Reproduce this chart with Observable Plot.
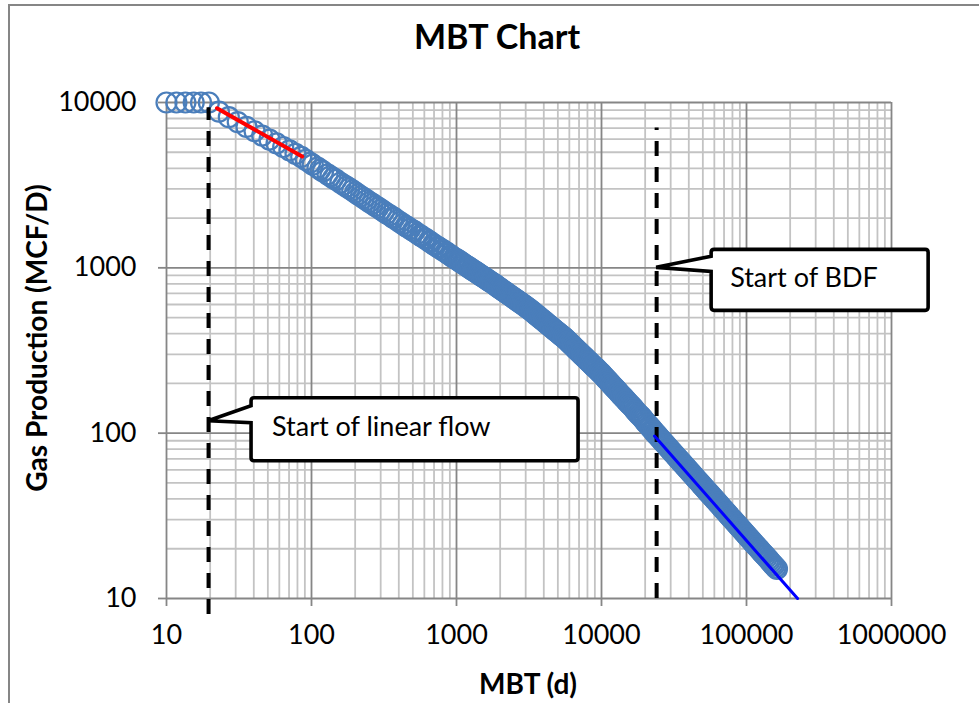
<!DOCTYPE html>
<html>
<head>
<meta charset="utf-8">
<script src="https://cdn.jsdelivr.net/npm/d3@7"></script>
<script src="https://cdn.jsdelivr.net/npm/@observablehq/plot@0.6"></script>
<style>
  html, body { margin: 0; padding: 0; background: #fff; }
  #wrap { position: relative; width: 979px; height: 703px; overflow: hidden; }
  #frame { position: absolute; left: 8px; top: 4px; width: 2000px; height: 2000px;
           border-left: 2px solid #868686; border-top: 2px solid #868686; }
  #chart { position: absolute; left: 0; top: 0; }
</style>
</head>
<body>
<div id="wrap"><div id="frame"></div><div id="chart"></div></div>
<script>
// ---- data ----
const earlyMbt  = [10, 11.7, 13.5, 15.4, 17.3, 19.6, 23.0, 26.9, 31.0, 35.6, 40.5, 45.7, 51.3, 57.4, 63.8, 70.5, 77.6, 84.9];
const earlyRate = [10000, 10000, 10000, 10000, 10000, 10000, 8800, 8150, 7610, 7120, 6700, 6310, 5970, 5660, 5380, 5130, 4890, 4690];

const midMbt = [91.2, 97.7, 102, 110, 115, 120, 129, 135, 141, 148,
  158, 166, 174, 182, 191, 200, 209, 219, 229, 240,
  251, 263, 275, 288, 302, 316, 331, 347, 363, 372,
  389, 407, 427, 447, 457, 479, 501, 513, 537, 562,
  575, 603, 617, 646, 661, 692, 708, 741, 759, 794,
  813, 851, 871, 912, 933, 977];
const midRate = [4500, 4320, 4210, 4040, 3930, 3830, 3680, 3580, 3490, 3400,
  3270, 3180, 3100, 3020, 2940, 2860, 2780, 2710, 2640, 2570,
  2500, 2440, 2370, 2310, 2250, 2190, 2130, 2080, 2020, 2000,
  1940, 1890, 1840, 1790, 1770, 1720, 1680, 1660, 1610, 1570,
  1550, 1510, 1490, 1450, 1430, 1390, 1370, 1340, 1320, 1290,
  1270, 1240, 1220, 1190, 1170, 1140];

const lateMbt = [1000, 1023, 1047, 1072, 1096, 1122, 1148, 1175, 1202, 1230,
  1259, 1288, 1318, 1349, 1380, 1413, 1445, 1479, 1514, 1549,
  1585, 1622, 1660, 1698, 1738, 1778, 1820, 1862, 1905, 1950,
  1995, 2042, 2089, 2138, 2188, 2239, 2291, 2344, 2399, 2455,
  2512, 2570, 2630, 2692, 2754, 2818, 2884, 2951, 3020, 3090,
  3162, 3236, 3311, 3388, 3467, 3548, 3631, 3715, 3802, 3890,
  3981, 4074, 4169, 4266, 4365, 4467, 4571, 4677, 4786, 4898,
  5012, 5129, 5248, 5370, 5495, 5623, 5754, 5888, 6026, 6166,
  6310, 6457, 6607, 6761, 6918, 7079, 7244, 7413, 7586, 7762,
  7943, 8128, 8318, 8511, 8710, 8913, 9120, 9333, 9550, 9772,
  10000, 10230, 10470, 10720, 10960, 11220, 11480, 11750, 12020, 12300,
  12590, 12880, 13180, 13490, 13800, 14130, 14450, 14790, 15140, 15490,
  15850, 16220, 16600, 16980, 17380, 17780, 18200, 18620, 19050, 19500,
  19950, 20420, 20890, 21380, 21880, 22390, 22910, 23440, 23990, 24550,
  25120, 25700, 26300, 26920, 27540, 28180, 28840, 29510, 30200, 30900,
  31620, 32360, 33110, 33880, 34670, 35480, 36310, 37150, 38020, 38900,
  39810, 40740, 41690, 42660, 43650, 44670, 45710, 46770, 47860, 48980,
  50120, 51290, 52480, 53700, 54950, 56230, 57540, 58880, 60260, 61660,
  63100, 64570, 66070, 67610, 69180, 70790, 72440, 74130, 75860, 77620,
  79430, 81280, 83180, 85110, 87100, 89130, 91200, 93330, 95500, 97720,
  100000, 102300, 104700, 107200, 109600, 112200, 114800, 117500, 120200, 123000,
  125900, 128800, 131800, 134900, 138000, 141300, 144500, 147900, 151400, 154900,
  158500, 162200];
const lateRate = [1127, 1112, 1097, 1083, 1069, 1055, 1040, 1026, 1013, 1000,
  986, 973, 960, 948, 935, 923, 910, 898, 886, 875,
  863, 852, 840, 829, 818, 807, 796, 785, 773, 762,
  752, 741, 730, 720, 710, 700, 690, 680, 671, 661,
  652, 642, 633, 624, 616, 607, 598, 590, 581, 573,
  565, 556, 547, 538, 529, 520, 512, 503, 495, 487,
  479, 471, 463, 455, 448, 441, 433, 426, 419, 412,
  406, 399, 392, 386, 380, 373, 366, 359, 352, 345,
  338, 332, 325, 319, 313, 307, 301, 295, 289, 284,
  278, 273, 268, 262, 257, 252, 248, 243, 238, 233,
  229, 224, 219, 214, 210, 205, 201, 196, 192, 188,
  184, 180, 176, 172, 168, 165, 161, 158, 154, 151,
  148, 145, 142, 138, 135, 132, 129, 127, 124, 121,
  118, 115, 113, 110, 108, 105, 103, 100, 98.2, 95.9,
  93.8, 91.7, 89.6, 87.6, 85.7, 83.8, 81.9, 80.1, 78.3, 76.5,
  74.8, 73.2, 71.5, 69.9, 68.4, 66.8, 65.4, 63.9, 62.5, 61.1,
  59.7, 58.4, 57.1, 55.8, 54.6, 53.3, 52.1, 51.0, 49.9, 48.7,
  47.6, 46.6, 45.5, 44.5, 43.5, 42.6, 41.6, 40.7, 39.8, 38.9,
  38.0, 37.2, 36.3, 35.5, 34.7, 34.0, 33.2, 32.5, 31.7, 31.0,
  30.3, 29.7, 29.0, 28.4, 27.7, 27.1, 26.5, 25.9, 25.3, 24.8,
  24.2, 23.7, 23.1, 22.6, 22.1, 21.6, 21.1, 20.7, 20.2, 19.8,
  19.3, 18.9, 18.5, 18.1, 17.7, 17.3, 16.9, 16.5, 16.1, 15.8,
  15.4, 15.1];

// straight-line fits
const linearFitMbt  = [22.3, 86.3];
const linearFitRate = [9230, 4710];
const bdfFitMbt  = [23200, 225000];
const bdfFitRate = [96, 10];

// flow-regime markers (dashed lines + callouts)
const markerMbt     = [19.5, 24000];
const markerBottom  = [8, 10];
const markerTop     = [9300, 7000];
const markerLabels  = ["Start of linear flow", "Start of BDF"];
const calloutTipRate = [118, 1000];

// axis ticks / texts
const xMajor = [10, 100, 1000, 10000, 100000, 1000000];
const yMajor = [10, 100, 1000, 10000];
const chartTitle = "MBT Chart";
const xTitle = "MBT (d)";
const yTitle = "Gas Production (MCF/D)";

// ---- build tables ----
const allMbt = [...earlyMbt, ...midMbt, ...lateMbt];
const allRate = [...earlyRate, ...midRate, ...lateRate];
const points = allMbt.map((x, i) => ({x, y: allRate[i]}));
const linFit = linearFitMbt.map((x, i) => ({x, y: linearFitRate[i]}));
const bdfFit = bdfFitMbt.map((x, i) => ({x, y: bdfFitRate[i]}));
const markers = markerMbt.map((x, i) => ({x, y1: markerBottom[i], y2: markerTop[i]}));

const isDecade = d => Math.abs(Math.log10(d) - Math.round(Math.log10(d))) < 1e-6;
const xMinor = d3.scaleLog().domain([10, 1e6]).ticks().filter(d => !isDecade(d));
const yMinor = d3.scaleLog().domain([10, 1e4]).ticks().filter(d => !isDecade(d));

const FONT = "Lato, 'Open Sans', sans-serif";
const minorGrid = "#c3c3c3", majorGrid = "#868686";

const chart = Plot.plot({
  width: 979, height: 703,
  marginLeft: 166, marginRight: 88, marginTop: 102, marginBottom: 105,
  style: {fontFamily: FONT, fontSize: "27px", background: "transparent", overflow: "visible", color: "black"},
  x: {type: "log", domain: [10, 1e6]},
  y: {type: "log", domain: [10, 1e4]},
  marks: [
    Plot.ruleX(xMinor, {stroke: minorGrid, strokeWidth: 1.8}),
    Plot.ruleY(yMinor, {stroke: minorGrid, strokeWidth: 1.8}),
    Plot.ruleX(xMajor, {stroke: majorGrid, strokeWidth: 1.8}),
    Plot.ruleY(yMajor, {stroke: majorGrid, strokeWidth: 1.8}),
    Plot.axisX({ticks: xMajor, tickFormat: d => String(d), tickSize: 8, tickPadding: 18,
                fontSize: 27, label: null, stroke: majorGrid, strokeWidth: 1.8, fill: "black"}),
    Plot.axisY({ticks: yMajor, tickFormat: d => String(d), tickSize: 8, tickPadding: 22,
                fontSize: 27, label: null, stroke: majorGrid, strokeWidth: 1.8, fill: "black"}),
    Plot.dot(points, {x: "x", y: "y", r: 10, stroke: "#4A7EBB", strokeWidth: 2.2, fill: "none"}),
    Plot.ruleX(markers, {x: "x", y1: "y1", y2: "y2", stroke: "black", strokeWidth: 4, strokeDasharray: "15,11"}),
    Plot.line(linFit, {x: "x", y: "y", stroke: "#FF0000", strokeWidth: 4}),
    Plot.line(bdfFit, {x: "x", y: "y", stroke: "#0000FF", strokeWidth: 3})
  ]
});
document.getElementById("chart").appendChild(chart);

// ---- titles and callouts ----
const svg = d3.select(chart);
const sx = chart.scale("x"), sy = chart.scale("y");

svg.append("text").attr("x", 497).attr("y", 49).attr("text-anchor", "middle")
  .attr("font-family", FONT).attr("font-size", 34).attr("font-weight", "bold").text(chartTitle);
svg.append("text").attr("x", 528).attr("y", 694).attr("text-anchor", "middle")
  .attr("font-family", FONT).attr("font-size", 28).attr("font-weight", "bold").text(xTitle);
svg.append("text").attr("transform", "translate(47,338) rotate(-90)").attr("text-anchor", "middle")
  .attr("font-family", FONT).attr("font-size", 28).attr("font-weight", "bold").text(yTitle);

const calloutLayout = [
  {dx: 43, dy: -23, w: 327, h: 63, a1: 8, a2: 25, tx: 21, ty: 38},
  {dx: 55, dy: -18, w: 217, h: 61, a1: 7, a2: 22, tx: 19, ty: 38}
];
markerLabels.forEach((label, i) => {
  const tipX = sx.apply(markerMbt[i]), tipY = sy.apply(calloutTipRate[i]);
  const c = calloutLayout[i];
  const L = tipX + c.dx, T = tipY + c.dy, R = L + c.w, B = T + c.h, r = 3;
  const p = `M${L},${T + c.a1} L${L},${T + r} Q${L},${T} ${L + r},${T} L${R - r},${T} Q${R},${T} ${R},${T + r}
    L${R},${B - r} Q${R},${B} ${R - r},${B} L${L + r},${B} Q${L},${B} ${L},${B - r} L${L},${T + c.a2} L${tipX},${tipY} Z`;
  svg.append("path").attr("d", p).attr("fill", "white").attr("stroke", "black")
    .attr("stroke-width", 3.6).attr("stroke-linejoin", "miter");
  svg.append("text").attr("x", L + c.tx).attr("y", T + c.ty).attr("text-anchor", "start")
    .attr("font-family", FONT).attr("font-size", 27).attr("fill", "black").text(label);
});
</script>
</body>
</html>
